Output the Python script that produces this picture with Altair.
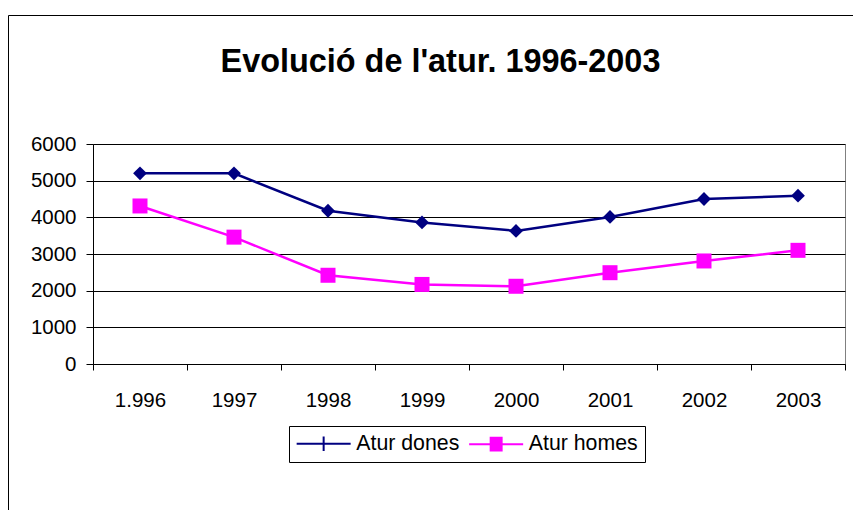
import altair as alt
import pandas as pd

# ---- data ----
years = ["1.996", "1997", "1998", "1999", "2000", "2001", "2002", "2003"]
series_names = ["Atur dones", "Atur homes"]
dones = [5200, 5200, 4180, 3860, 3630, 4010, 4500, 4590]
homes = [4310, 3460, 2420, 2170, 2120, 2490, 2810, 3100]
y_ticks = [0, 1000, 2000, 3000, 4000, 5000, 6000]
title_text = "Evolució de l'atur. 1996-2003"

colors = ["#000080", "#FF00FF"]
markers = ["diamond", "square"]
marker_sizes = [190, 225]
# legend symbols: line + vertical tick, line + (stroke-filled) square
legend_shapes = [
    "M-3,0H3M0,-0.8V0.8",
    "M-3,0H3" + "".join("M-0.72,%.2fH0.72" % v for v in
                        [-0.7, -0.5, -0.3, -0.1, 0.1, 0.3, 0.5, 0.7]),
]

rows = []
for i, yr in enumerate(years):
    rows.append({"year": yr, "serie": series_names[0], "value": dones[i]})
    rows.append({"year": yr, "serie": series_names[1], "value": homes[i]})
df = pd.DataFrame(rows)

FONT = "Liberation Sans"
W, H = 752, 220

x = alt.X(
    "year:N", sort=years,
    scale=alt.Scale(type="band", paddingInner=0, paddingOuter=0),
    axis=alt.Axis(title=None, labelAngle=0, tickBand="extent", tickSize=6,
                  labelPadding=20, domainColor="black", tickColor="black",
                  grid=False, labelFontSize=20.5, labelColor="black",
                  labelFont=FONT),
)
y = alt.Y(
    "value:Q",
    scale=alt.Scale(domain=[0, 6000], nice=False),
    axis=alt.Axis(title=None, values=y_ticks, format="d", grid=True,
                  gridColor="black", gridWidth=1, tickSize=7, labelPadding=10,
                  domainColor="black", tickColor="black", labelFontSize=20.5,
                  labelColor="black", labelFont=FONT),
)

legend = alt.Legend(
    title=None, orient="none", legendX=196, legendY=282,
    direction="horizontal", strokeColor="black", fillColor="white",
    padding=7, symbolSize=324, symbolOffset=17, labelOffset=22,
    columnPadding=4.5, labelFontSize=21.3, labelFont=FONT,
    labelColor="black", symbolStrokeWidth=2, symbolOpacity=1, labelLimit=0,
)

base = alt.Chart(df)

# layer that only provides the legend (no rows pass the filter; entries come
# from the explicit scale domain)
legend_layer = base.transform_filter("datum.value < 0").mark_point(
    filled=False, strokeWidth=2
).encode(
    x=x, y=y,
    color=alt.Color("serie:N", scale=alt.Scale(domain=series_names, range=colors),
                    legend=legend),
    shape=alt.Shape("serie:N", scale=alt.Scale(domain=series_names, range=legend_shapes),
                    legend=legend),
)

line = base.mark_line(strokeWidth=2.5).encode(
    x=x, y=y, stroke=alt.Stroke("serie:N", scale=alt.Scale(range=colors), legend=None)
)

pt_layers = []
for name, shp, sz in zip(series_names, markers, marker_sizes):
    pt_layers.append(
        base.transform_filter(alt.datum.serie == name)
        .mark_point(filled=True, opacity=1, shape=shp, size=sz)
        .encode(x=x, y=y, fill=alt.Fill("serie:N", scale=alt.Scale(range=colors), legend=None))
    )

frame = alt.Chart(alt.Data(values=[{"k": 0}])).mark_rect(
    fill="white", fillOpacity=0, stroke="black", strokeWidth=1
).encode(x=alt.value(-84.5), x2=alt.value(900), y=alt.value(-128.5), y2=alt.value(600))

title = alt.Chart(alt.Data(values=[{"t": title_text}])).mark_text(
    font=FONT, fontSize=32.4, fontWeight="bold", align="center",
    baseline="alphabetic", color="black"
).encode(text="t:N", x=alt.value(347.5), y=alt.value(-72))

chart = alt.layer(legend_layer, frame, title, line, *pt_layers).properties(
    width=W, height=H,
    autosize=alt.AutoSizeParams(type="none"),
    padding={"left": 85, "top": 136, "right": 8, "bottom": 146},
    background="white",
).configure_view(stroke="#808080", strokeWidth=1)

chart.save("out.html", embed_options={"renderer": "svg", "actions": False})
